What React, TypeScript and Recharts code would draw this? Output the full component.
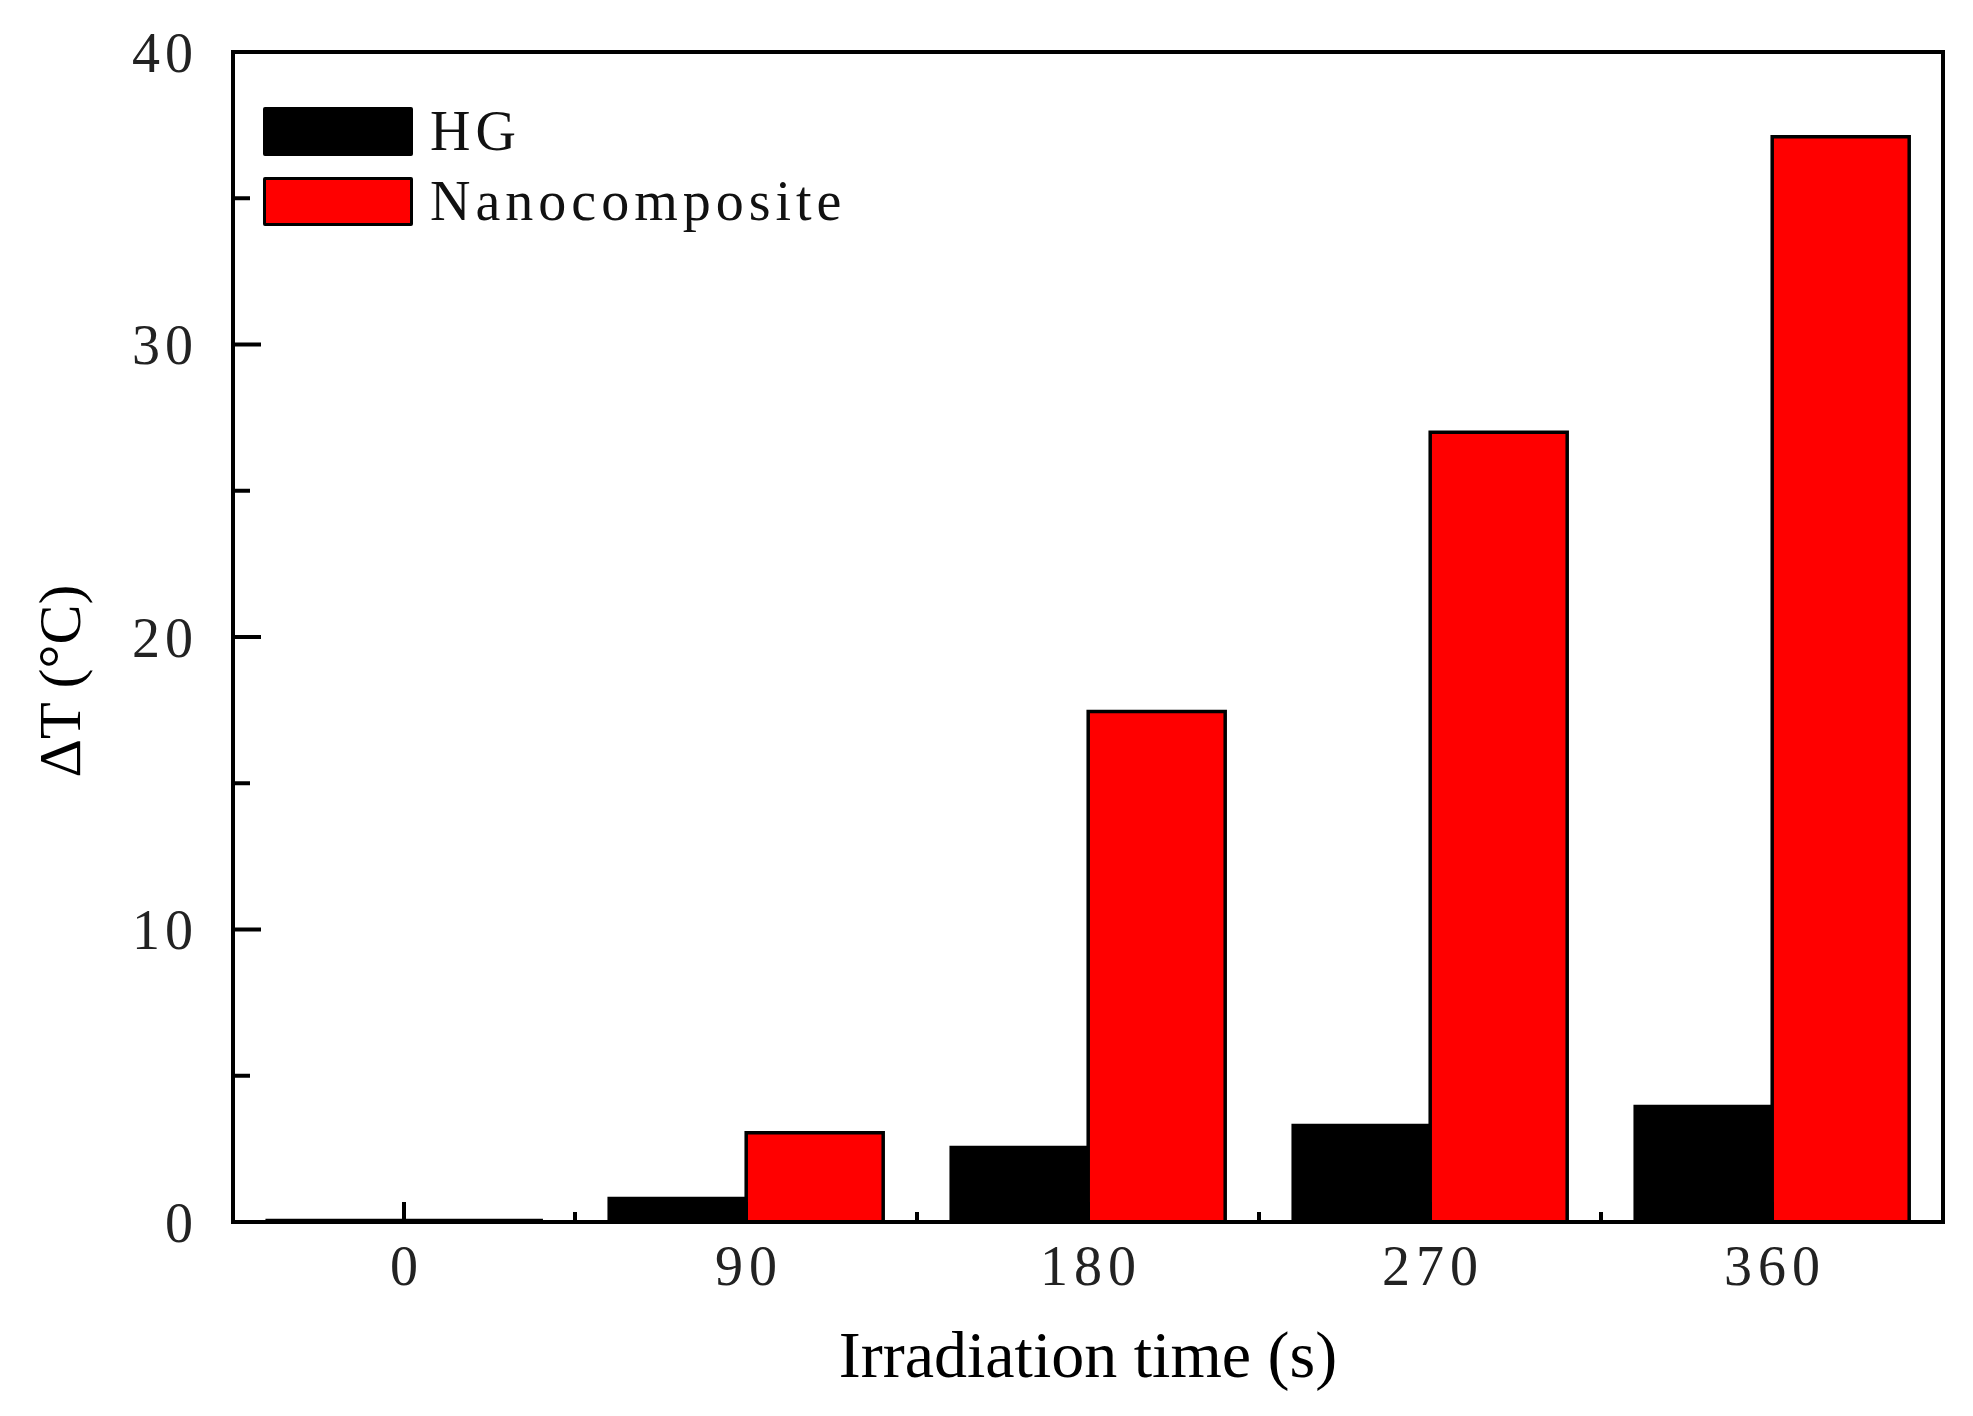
import React, { useEffect } from "react";
import { Bar, BarChart, Legend, XAxis, YAxis } from "recharts";

// categories and series values
const times = ["0", "90", "180", "270", "360"];
const hgValues = [0.05, 0.8, 2.55, 3.3, 3.95];
const nanoValues = [0.05, 3.05, 17.45, 27.0, 37.1];
const yTicks = [0, 5, 10, 15, 20, 25, 30, 35, 40];
const xMinorTicks = [1, 2, 3, 4];

// pos = slot of each category on a 0..5 number scale, used only for the minor x ticks
const data = times.map((t, i) => ({ time: t, pos: i + 0.5, hg: hgValues[i], nano: nanoValues[i] }));

const FONT = "'Liberation Serif', 'Times New Roman', serif";
const AXIS = { stroke: "#000", strokeWidth: 4, strokeLinecap: "square" as const };
const TICK = { stroke: "#000", strokeWidth: 4 };

const Y_TICK_MARGIN = 63;
const Y_MAJOR = 28;
const Y_MINOR = 17;

// draws the inward tick line and, for multiples of 10, the label
const YTick = (props: any) => {
  const { x, y, payload } = props;
  const axisX = x + Y_TICK_MARGIN - Y_MAJOR;
  const major = payload.value % 10 === 0;
  return (
    <g>
      <line x1={axisX} x2={axisX + (major ? Y_MAJOR : Y_MINOR)} y1={y} y2={y}
        stroke="#000" strokeWidth={4} />
      {major && (
        <text x={x} y={y} dy="0.35em" textAnchor="end" fontFamily={FONT} fontSize={56}
          fill="#222" style={{ letterSpacing: "5px" }}>
          {payload.value}
        </text>
      )}
    </g>
  );
};

const XTick = (props: any) => {
  const { x, y, payload } = props;
  return (
    <text x={x + 3} y={y} dy="0.71em" textAnchor="middle" fontFamily={FONT} fontSize={56}
      fill="#222" style={{ letterSpacing: "6px" }}>
      {payload.value}
    </text>
  );
};

const NoLabel = () => <g />;

const YLabel = (props: any) => {
  const { viewBox } = props;
  const cx = viewBox.x + 60;
  const cy = viewBox.y + viewBox.height / 2 + 44;
  return (
    <text x={cx} y={cy} transform={`rotate(-90 ${cx} ${cy})`} textAnchor="middle"
      fontFamily={FONT} fontSize={60} fill="#000">
      ΔT (°C)
    </text>
  );
};

const LegendBox = (props: any) => {
  const { payload } = props;
  return (
    <div style={{ display: "flex", flexDirection: "column", gap: 21 }}>
      {(payload || []).map((p: any) => (
        <div key={p.value} style={{ display: "flex", alignItems: "center", height: 49 }}>
          <div style={{ width: 150, height: 49, boxSizing: "border-box", border: "3px solid #000",
            background: p.color, borderRadius: 2 }} />
          <span style={{ marginLeft: 17, fontFamily: FONT, fontSize: 56, lineHeight: "49px",
            letterSpacing: "5px", color: "#111" }}>{p.value}</span>
        </div>
      ))}
    </div>
  );
};

export default function App() {
  useEffect(() => {
    document.body.style.margin = "0";
  }, []);
  return (
    <div style={{ width: 1973, height: 1416, background: "#fff" }}>
      <BarChart width={1973} height={1416} data={data}
        margin={{ top: 52, right: 30, left: 20, bottom: 30 }}
        barCategoryGap="10%" barGap={0}>
        <XAxis xAxisId="main" dataKey="time" height={164} axisLine={AXIS}
          tickLine={TICK} tickSize={-20} tickMargin={43}
          tick={<XTick />} interval={0}
          label={{ value: "Irradiation time (s)", position: "insideBottom", offset: 9,
            fill: "#000", fontSize: 66, fontFamily: FONT }} />
        <XAxis xAxisId="minor" type="number" dataKey="pos" domain={[0, 5]} allowDataOverflow
          ticks={xMinorTicks} mirror axisLine={false} tick={<NoLabel />} interval={0}
          tickLine={TICK} tickSize={10} />
        <XAxis xAxisId="top" orientation="top" dataKey="time" mirror tick={false}
          tickLine={false} axisLine={AXIS} />
        <YAxis yAxisId="main" domain={[0, 40]} ticks={yTicks} width={213} axisLine={AXIS}
          tickLine={false} tickSize={-Y_MAJOR} tickMargin={Y_TICK_MARGIN}
          tick={<YTick />} interval={0} label={<YLabel />} />
        <YAxis yAxisId="right" orientation="right" domain={[0, 40]} mirror tick={false}
          tickLine={false} axisLine={AXIS} />
        <Legend content={<LegendBox />} layout="horizontal" verticalAlign="middle" align="center"
          wrapperStyle={{ top: 107, left: 263, width: "auto" }} />
        <Bar xAxisId="main" yAxisId="main" dataKey="hg" name="HG" fill="#000" stroke="#000"
          strokeWidth={3.5} isAnimationActive={false} />
        <Bar xAxisId="main" yAxisId="main" dataKey="nano" name="Nanocomposite" fill="#ff0000"
          stroke="#000" strokeWidth={3.5} isAnimationActive={false} />
      </BarChart>
    </div>
  );
}
